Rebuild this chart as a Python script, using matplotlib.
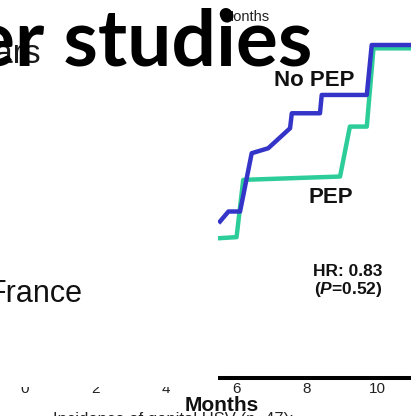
import matplotlib.pyplot as plt
from matplotlib.patches import Rectangle, Circle

W, H = 411, 416

# cumulative incidence curves (month, fraction)
no_pep_months = [5.54, 5.78, 6.11, 6.44, 6.91, 7.53, 7.58, 8.38, 8.43, 9.71, 9.85, 11.0]
no_pep_incidence = [0.47, 0.50, 0.50, 0.675, 0.69, 0.75, 0.795, 0.795, 0.85, 0.85, 1.0, 1.0]
pep_months = [5.54, 6.01, 6.20, 8.95, 9.23, 9.71, 9.90, 11.0]
pep_incidence = [0.42, 0.423, 0.595, 0.605, 0.755, 0.755, 0.99, 0.99]
month_ticks = [0, 2, 4, 6, 8, 10]
hr_text = "HR: 0.83\n($\\mathbfit{P}$=0.52)"

BLUE = "#3434c8"
GREEN = "#2ccd98"
SANS = "Liberation Sans"

plt.rcParams["mathtext.fontset"] = "custom"
plt.rcParams["mathtext.bfit"] = "Liberation Sans:bold:italic"


def fx(px):
    return px / W


def fy(py):
    return 1 - py / H


fig = plt.figure(figsize=(W / 100, H / 100), dpi=100)
ax = fig.add_axes([fx(25), fy(378), 1 - fx(25), fy(0) - fy(378)])
ax.plot(pep_months, pep_incidence, color=GREEN, lw=3.2)
ax.plot(no_pep_months, no_pep_incidence, color=BLUE, lw=3.2)
ax.set_xlim(0, (W - 25) / 35.2)
ax.set_ylim(0, 378 / 333)

for side in ["top", "left", "right"]:
    ax.spines[side].set_visible(False)
ax.spines["bottom"].set_linewidth(2.9)
ax.set_yticks([])
ax.set_xticks(month_ticks)
ax.tick_params(axis="x", length=0, pad=3.2, labelsize=11, labelcolor="#222222")
for lbl in ax.get_xticklabels():
    lbl.set_family(SANS)

ax.text(8.22, 0.893, "No PEP", ha="center", va="center", fontsize=16,
        fontweight="bold", family=SANS, color="#111111")
ax.text(8.68, 0.542, "PEP", ha="center", va="center", fontsize=16,
        fontweight="bold", family=SANS, color="#111111")
ax.text(9.18, 0.29, hr_text, ha="center", va="center", fontsize=12.5,
        fontweight="bold", family=SANS, color="#111111", linespacing=1.1)

# white text box laid over the left part of the chart
fig.add_artist(Rectangle((0, fy(387)), fx(218), 1 - fy(387), transform=fig.transFigure,
                         facecolor="white", edgecolor="none", zorder=5))

fig.text(fx(42), fy(63), "years", ha="right", va="baseline", fontsize=24,
         family=SANS, color="#1a1a1a", zorder=6)
fig.text(fx(312), fy(65), "Other studies", ha="right", va="baseline", fontsize=56.5,
         fontweight="bold", family="Lato", color="black", zorder=7)
fig.text(fx(-12), fy(302), "France", ha="left", va="baseline", fontsize=22,
         family=SANS, color="#111111", zorder=6)

fig.text(fx(222), fy(21), "Months", ha="left", va="baseline", fontsize=10.5,
         family=SANS, color="#222222", zorder=6)
fig.add_artist(Circle((fx(227), fy(16)), 6.5 / W, transform=fig.transFigure,
                      facecolor="black", edgecolor="none", zorder=7))

fig.text(fx(53), fy(424), "Incidence of genital HSV (n=47):", ha="left", va="baseline",
         fontsize=12, family=SANS, color="#222222", zorder=6)
fig.text(fx(222), fy(411), "Months", ha="center", va="baseline", fontsize=15,
         fontweight="bold", family=SANS, color="#111111", zorder=7)

fig.savefig("out.png", dpi=100)
